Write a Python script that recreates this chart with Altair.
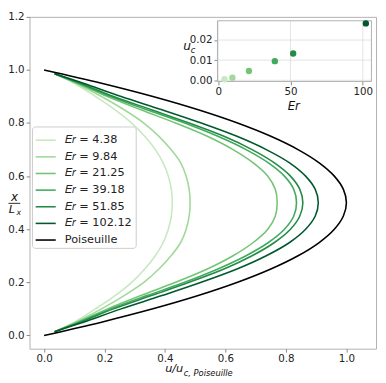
import altair as alt
import pandas as pd

# ---------------- data ----------------
er_labels = ["𝐸𝑟 = 4.38", "𝐸𝑟 = 9.84", "𝐸𝑟 = 21.25", "𝐸𝑟 = 39.18",
             "𝐸𝑟 = 51.85", "𝐸𝑟 = 102.12", "Poiseuille"]
line_colors = ["#c7e9c0", "#a1d99b", "#74c476", "#41ab5d", "#238b45", "#00592e", "#000000"]

y_green = [0.014, 0.05, 0.10, 0.15, 0.20, 0.25, 0.30, 0.35, 0.40, 0.45, 0.50,
           0.55, 0.60, 0.65, 0.70, 0.75, 0.80, 0.85, 0.90, 0.95, 0.986]
u_er_4_38 = [0.035, 0.100, 0.170, 0.235, 0.290, 0.333, 0.368, 0.394, 0.411, 0.421, 0.424,
             0.421, 0.411, 0.394, 0.368, 0.333, 0.290, 0.235, 0.170, 0.100, 0.035]
u_er_9_84 = [0.035, 0.105, 0.190, 0.265, 0.330, 0.380, 0.420, 0.452, 0.470, 0.480, 0.483,
             0.480, 0.470, 0.452, 0.420, 0.380, 0.330, 0.265, 0.190, 0.105, 0.035]
u_er_21_25 = [0.035, 0.110, 0.210, 0.320, 0.435, 0.540, 0.625, 0.692, 0.740, 0.765, 0.771,
              0.765, 0.740, 0.692, 0.625, 0.540, 0.435, 0.320, 0.210, 0.110, 0.035]
u_er_39_18 = [0.035, 0.115, 0.220, 0.340, 0.465, 0.575, 0.668, 0.742, 0.795, 0.826, 0.835,
              0.826, 0.795, 0.742, 0.668, 0.575, 0.465, 0.340, 0.220, 0.115, 0.035]
u_er_51_85 = [0.035, 0.120, 0.230, 0.355, 0.480, 0.595, 0.688, 0.762, 0.815, 0.846, 0.856,
              0.846, 0.815, 0.762, 0.688, 0.595, 0.480, 0.355, 0.230, 0.120, 0.035]
u_er_102_12 = [0.035, 0.130, 0.255, 0.390, 0.520, 0.638, 0.735, 0.812, 0.865, 0.897, 0.907,
               0.897, 0.865, 0.812, 0.735, 0.638, 0.520, 0.390, 0.255, 0.130, 0.035]

y_pois = [0.00, 0.05, 0.10, 0.15, 0.20, 0.25, 0.30, 0.35, 0.40, 0.45, 0.50,
          0.55, 0.60, 0.65, 0.70, 0.75, 0.80, 0.85, 0.90, 0.95, 1.00]
u_pois = [0.00, 0.19, 0.36, 0.51, 0.64, 0.75, 0.84, 0.91, 0.96, 0.99, 1.00,
          0.99, 0.96, 0.91, 0.84, 0.75, 0.64, 0.51, 0.36, 0.19, 0.00]

# inset: centreline velocity vs Er
er_values = [4.38, 9.84, 21.25, 39.18, 51.85, 102.12]
uc_values = [0.0005, 0.0013, 0.0046, 0.0095, 0.0133, 0.0283]

x_ticks = [0.0, 0.2, 0.4, 0.6, 0.8, 1.0]
y_ticks = [0.0, 0.2, 0.4, 0.6, 0.8, 1.0, 1.2]
inset_x_ticks = [0, 50, 100]
inset_y_ticks = [0.0, 0.01, 0.02]

# ---------------- build tables ----------------
rows = []
green_series = [u_er_4_38, u_er_9_84, u_er_21_25, u_er_39_18, u_er_51_85, u_er_102_12]
for lab, us in zip(er_labels[:6], green_series):
    for i, (u, y) in enumerate(zip(us, y_green)):
        rows.append({"label": lab, "u": u, "y": y, "idx": i})
for i, (u, y) in enumerate(zip(u_pois, y_pois)):
    rows.append({"label": "Poiseuille", "u": u, "y": y, "idx": i})
df = pd.DataFrame(rows)

W, H = 354, 339
FONT = "DejaVu Sans"
LBL = 10.5

main = alt.Chart(df).mark_line(interpolate="catmull-rom", strokeWidth=1.6, clip=True).encode(
    x=alt.X("u:Q", scale=alt.Scale(domain=[-0.048, 1.098], nice=False, zero=False),
            axis=alt.Axis(values=x_ticks, format=".1f", title=None, grid=False, domain=False,
                          tickSize=3.5, tickColor="#888", labelFontSize=LBL, labelColor="#222",
                          labelFlush=False, labelPadding=2)),
    y=alt.Y("y:Q", scale=alt.Scale(domain=[-0.05, 1.2], nice=False, zero=False),
            axis=alt.Axis(values=y_ticks, format=".1f", title=None, grid=False, domain=False,
                          tickSize=3.5, tickColor="#888", labelFontSize=LBL, labelColor="#222",
                          labelFlush=False, labelPadding=2)),
    color=alt.Color("label:N", scale=alt.Scale(domain=er_labels, range=line_colors),
                    legend=alt.Legend(orient="none", legendX=2.5, legendY=112, title=None,
                                      symbolType="stroke", symbolSize=420, symbolStrokeWidth=1.6,
                                      labelFontSize=11.5, labelFont=FONT, labelColor="#222",
                                      fillColor="white", strokeColor="#cccccc", cornerRadius=3,
                                      padding=2.5, rowPadding=-5.5, labelOffset=8)),
    order="idx:Q",
    detail="label:N",
)

# ---------------- inset ----------------
ix_scale = alt.Scale(domain=[-0.5, 106], range=[192, 349.3], nice=False, zero=False)
iy_scale = alt.Scale(domain=[-0.0006, 0.0296], range=[66, 4], nice=False, zero=False)
ix_axis = alt.Axis(orient="bottom", offset=-(H - 66), values=inset_x_ticks, format="d", title=None,
                   grid=False, domain=False, tickSize=3.5, tickColor="#888", labelFontSize=LBL,
                   labelColor="#222", labelFlush=False, labelPadding=2)
iy_axis = alt.Axis(orient="left", offset=-192, values=inset_y_ticks, format=".2f", title=None,
                   grid=False, domain=False, tickSize=3.5, tickColor="#888", labelFontSize=LBL,
                   labelColor="#222", labelFlush=False, labelPadding=2)

box = pd.DataFrame({"Er": [-0.5], "Er2": [106], "uc": [-0.0006], "uc2": [0.0296]})

bg = alt.Chart(box).mark_rect(fill="white", strokeWidth=0).encode(
    x=alt.X("Er:Q", scale=ix_scale, axis=ix_axis), x2="Er2",
    y=alt.Y("uc:Q", scale=iy_scale, axis=iy_axis), y2="uc2")

gv = alt.Chart(pd.DataFrame({"Er": inset_x_ticks, "uc": [-0.0006] * 3, "uc2": [0.0296] * 3})).mark_rule(
    color="#dddddd", strokeWidth=0.8).encode(
    x=alt.X("Er:Q", scale=ix_scale, axis=ix_axis),
    y=alt.Y("uc:Q", scale=iy_scale, axis=iy_axis), y2="uc2")

gh = alt.Chart(pd.DataFrame({"uc": inset_y_ticks, "Er": [-0.5] * 3, "Er2": [106] * 3})).mark_rule(
    color="#dddddd", strokeWidth=0.8).encode(
    y=alt.Y("uc:Q", scale=iy_scale, axis=iy_axis),
    x=alt.X("Er:Q", scale=ix_scale, axis=ix_axis), x2="Er2")

frame = alt.Chart(box).mark_rect(fill="transparent", stroke="#b0b0b0", strokeWidth=1).encode(
    x=alt.X("Er:Q", scale=ix_scale, axis=ix_axis), x2="Er2",
    y=alt.Y("uc:Q", scale=iy_scale, axis=iy_axis), y2="uc2")

pts = alt.Chart(pd.DataFrame({"Er": er_values, "uc": uc_values, "col": line_colors[:6]})).mark_circle(
    size=42, opacity=1).encode(
    x=alt.X("Er:Q", scale=ix_scale, axis=ix_axis),
    y=alt.Y("uc:Q", scale=iy_scale, axis=iy_axis),
    color=alt.Color("col:N", scale=None))

inset = alt.layer(bg, gv, gh, frame, pts)


def txt(s, x, y, size, italic=True, align="center", baseline="middle"):
    return alt.Chart(pd.DataFrame({"t": [s]})).mark_text(
        font=FONT, fontSize=size, fontStyle="italic" if italic else "normal",
        align=align, baseline=baseline, color="#111").encode(
        text="t:N", x=alt.value(x), y=alt.value(y))


titles = [
    txt("u/u", 157, 363, 11.5, align="right", baseline="alphabetic"),
    txt("c, Poiseuille", 157.5, 367, 8.5, align="left", baseline="alphabetic"),
    txt("x", -15.5, 184, 12),
    txt("L", -18, 197, 11.5),
    txt("x", -11, 200.5, 8),
    txt("Er", 270, 91, 12),
    txt("u", 161, 30, 12.5),
    txt("c", 167, 34, 8.5),
]
bar = alt.Chart(pd.DataFrame({"a": [0]})).mark_rule(color="#111", strokeWidth=0.9).encode(
    x=alt.value(-21.5), x2=alt.value(-9.5), y=alt.value(190.5))

chart = alt.layer(main, inset, bar, *titles).resolve_scale(
    x="independent", y="independent", color="independent"
).properties(
    width=W, height=H,
    padding={"left": 22, "top": 5, "right": 2, "bottom": 31},
    autosize=alt.AutoSizeParams(type="none"),
).configure(font=FONT).configure_view(stroke="#b0b0b0", strokeWidth=1)

chart.save("out.html", embed_options={"renderer": "svg", "actions": False})
